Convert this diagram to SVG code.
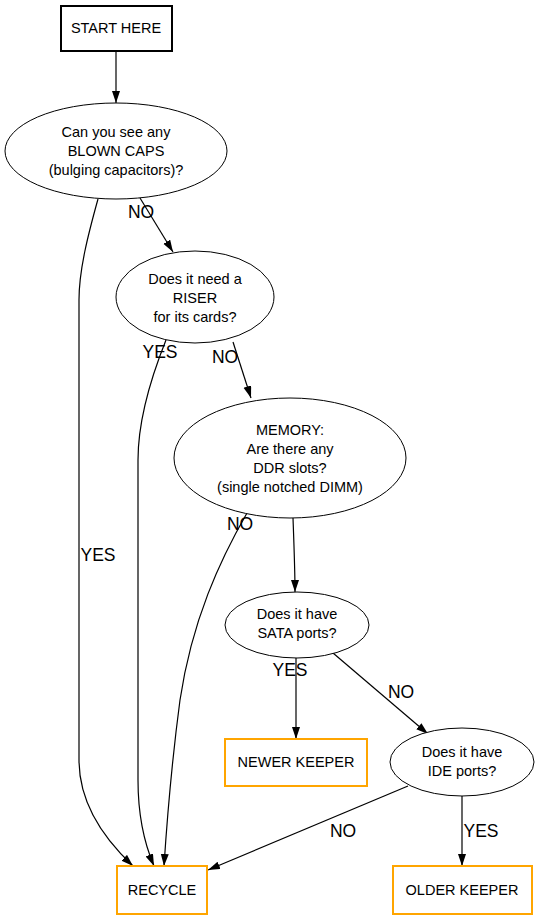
<svg xmlns="http://www.w3.org/2000/svg" width="540" height="920" viewBox="0 0 540 920">
<style>
.n{fill:#fff;stroke:#000;stroke-width:1}
.s{fill:#fff;stroke:#000;stroke-width:2}
.o{fill:#fff;stroke:#FFA500;stroke-width:2}
.t{font-family:"Liberation Sans",Arial,sans-serif;font-size:14.5px;fill:#000;text-anchor:middle}
.l{font-family:"Liberation Sans",Arial,sans-serif;font-size:17.5px;fill:#000;text-anchor:middle}
.e{fill:none;stroke:#000;stroke-width:1.2;marker-end:url(#a)}
</style>
<defs>
<marker id="a" markerUnits="userSpaceOnUse" markerWidth="13" markerHeight="9" refX="12" refY="4" orient="auto">
<path d="M0,0 L12,4 L0,8 z" fill="#000"/>
</marker>
</defs>
<rect width="540" height="920" fill="#fff"/>
<g id="edges">
<path class="e" d="M116,52 L116,103"/>
<path class="e" d="M140,198 L173,252"/>
<path class="e" d="M98,199 C88,235 79,270 79,300 L79,760 C79,800 100,835 133,866"/>
<path class="e" d="M233,342 L251,398"/>
<path class="e" d="M166,340 C150,380 138,420 138,460 L138,780 C138,820 145,845 154,866"/>
<path class="e" d="M293,518 C294,545 295,570 295,592"/>
<path class="e" d="M247,513 C220,560 192,620 180,700 C172,760 167,820 164,866"/>
<path class="e" d="M296,658 L296,739"/>
<path class="e" d="M333,653 L428,734"/>
<path class="e" d="M408,786 L208,870"/>
<path class="e" d="M462,796 L462,866"/>
<text class="l" x="141" y="218">NO</text>
<text class="l" x="225" y="363">NO</text>
<text class="l" x="160" y="358">YES</text>
<text class="l" x="240" y="530">NO</text>
<text class="l" x="98" y="561">YES</text>
<text class="l" x="290" y="676">YES</text>
<text class="l" x="401" y="698">NO</text>
<text class="l" x="343" y="837">NO</text>
<text class="l" x="481" y="837">YES</text>
</g>
<g id="start">
<rect class="s" x="61" y="6" width="111" height="45"/>
<text class="t" x="116" y="33">START HERE</text>
</g>
<g id="caps">
<ellipse class="n" cx="116" cy="151" rx="111" ry="48"/>
<text class="t" x="116" y="137">Can you see any</text>
<text class="t" x="116" y="156">BLOWN CAPS</text>
<text class="t" x="116" y="175">(bulging capacitors)?</text>
</g>
<g id="riser">
<ellipse class="n" cx="195" cy="297" rx="79" ry="46"/>
<text class="t" x="195" y="284">Does it need a</text>
<text class="t" x="195" y="303">RISER</text>
<text class="t" x="195" y="322">for its cards?</text>
</g>
<g id="memory">
<ellipse class="n" cx="290" cy="458" rx="116" ry="60"/>
<text class="t" x="290" y="435">MEMORY:</text>
<text class="t" x="290" y="454">Are there any</text>
<text class="t" x="290" y="473">DDR slots?</text>
<text class="t" x="290" y="492">(single notched DIMM)</text>
</g>
<g id="sata">
<ellipse class="n" cx="297" cy="625" rx="72" ry="33"/>
<text class="t" x="297" y="619">Does it have</text>
<text class="t" x="297" y="638">SATA ports?</text>
</g>
<g id="newer">
<rect class="o" x="225" y="739" width="142" height="47"/>
<text class="t" x="296" y="767">NEWER KEEPER</text>
</g>
<g id="ide">
<ellipse class="n" cx="462" cy="762" rx="72" ry="34"/>
<text class="t" x="462" y="757">Does it have</text>
<text class="t" x="462" y="776">IDE ports?</text>
</g>
<g id="recycle">
<rect class="o" x="117" y="866" width="90" height="48"/>
<text class="t" x="162" y="895">RECYCLE</text>
</g>
<g id="older">
<rect class="o" x="393" y="866" width="139" height="48"/>
<text class="t" x="462" y="895">OLDER KEEPER</text>
</g>
</svg>
